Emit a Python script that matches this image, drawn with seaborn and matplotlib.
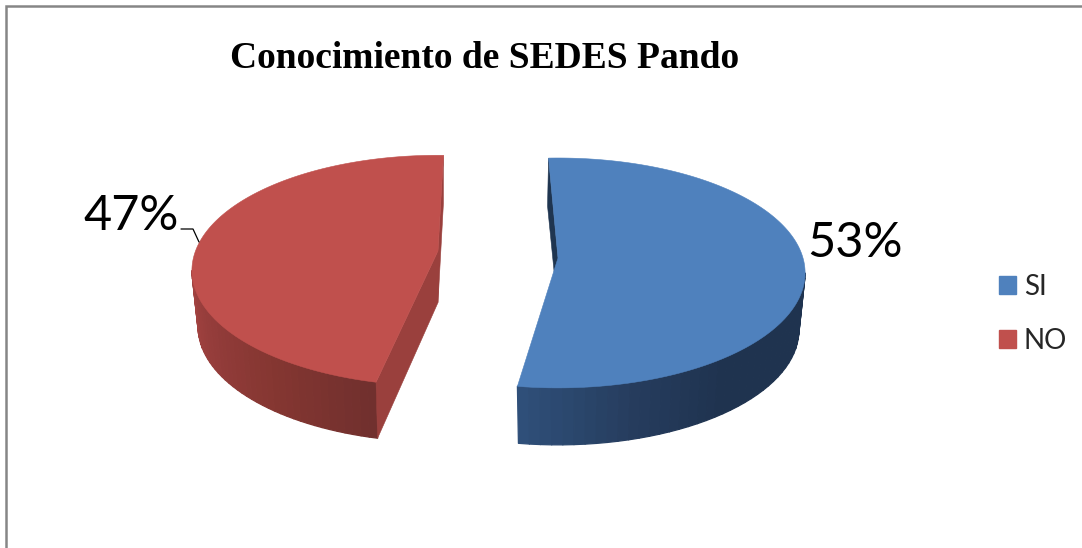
import numpy as np
import matplotlib
matplotlib.use("Agg")
import matplotlib.pyplot as plt
from matplotlib.collections import PolyCollection
from matplotlib.patches import Patch, Polygon
import seaborn as sns

TITLE = "Conocimiento de SEDES Pando"
CATEGORIES = ["SI", "NO"]
SHARES = [53, 47]
BASE_COLORS = ["#4F81BD", "#C0504D"]

sns.set_theme(style="white")
plt.rcParams["font.family"] = ["Lato", "DejaVu Sans"]
palette = sns.color_palette(BASE_COLORS)

fig = plt.figure(figsize=(10.82, 5.48), dpi=100)
ax = fig.add_axes([0, 0, 1, 1])
ax.set_xlim(0, 1082)
ax.set_ylim(548, 0)
ax.axis("off")

# Open chart frame: only the left and top edges fall inside the canvas.
ax.plot([6, 6, 1082], [548, 6, 6], color="#868686", lw=1.8, solid_joinstyle="miter")


def project(t_deg, cx, cy, radius, squash, tilt, depth=0.0, taper=1.0):
    """Perspective projection of a point on the rim of a tilted disc."""
    t = np.radians(t_deg)
    w = 1 + tilt * np.sin(t)
    x = cx + taper * radius * np.cos(t) / w
    y = cy - squash * np.sin(t) / w + depth
    return np.column_stack([np.atleast_1d(x), np.atleast_1d(y)])


def draw_slice(share, start, direction, cx, cy, radius, squash, tilt, depth, taper,
               color, face_color, side_stops, side_end, back_face, front_face):
    end = start + direction * 360 * share / sum(SHARES)
    apex = np.array([[cx, cy]])
    apex_low = apex + [0, depth * 0.92]

    # outer wall, shaded with a horizontal ramp in broad steps
    ts = np.linspace(end, side_end, 40)
    upper = project(ts, cx, cy, radius, squash, tilt)
    lower = project(ts, cx, cy, radius, squash, tilt, depth, taper)
    ramp = sns.blend_palette(side_stops, len(ts) - 1)
    quads = [[upper[i], upper[i + 1], lower[i + 1], lower[i]] for i in range(len(ts) - 1)]
    ax.add_collection(PolyCollection(quads, facecolors=ramp, edgecolors=ramp, linewidths=0.9, zorder=2))

    # flat cut faces; the front one only shows when it turns towards the viewer
    front_top = project(end, cx, cy, radius, squash, tilt)
    front_low = project(end, cx, cy, radius, squash, tilt, depth, taper)
    back_top = project(start, cx, cy, radius, squash, tilt)
    if front_face:
        ax.add_patch(Polygon(np.vstack([apex, front_top, front_low, apex_low]),
                             fc=face_color, ec=face_color, lw=0.4, zorder=2.5))
    ax.add_patch(Polygon(np.vstack([back_top, back_top + back_face, apex_low, apex]),
                         fc=face_color, ec=face_color, lw=0.4, zorder=2.5))

    # top face
    rim = project(np.linspace(start, end, 240), cx, cy, radius, squash, tilt)
    ax.add_patch(Polygon(np.vstack([apex, rim]), fc=color, ec=color, lw=0.4, zorder=3))


draw_slice(SHARES[0], 92.5, -1, 558, 258, 245, 113, 0.13, 57, 0.975,
           palette[0], "#1F3550", ["#2F4F79", "#263D5E", "#1F334F", "#1F334F", "#1F334F"],
           -7.5, [-1, 48], False)
draw_slice(SHARES[1], 88.5, 1, 438, 251, 242.5, 112, 0.17, 56, 0.975,
           palette[1], "#9A403D", ["#71302E", "#843631", "#933C3A", "#A24240"],
           189.8, [0, 48], True)

# Data labels and the leader line of the left slice
ax.text(131, 216, f"{SHARES[1]}%", fontsize=35, ha="center", va="center", color="black", zorder=5)
ax.text(855, 243, f"{SHARES[0]}%", fontsize=35, ha="center", va="center", color="black", zorder=5)
ax.plot([181, 193, 199], [229, 229, 242], color="black", lw=0.9, zorder=5)

ax.text(484.5, 58, TITLE, fontsize=27, fontweight="bold", family="Liberation Serif",
        ha="center", va="center", color="black")

handles = [Patch(fc=c, ec=c, label=n) for c, n in zip(palette, CATEGORIES)]
ax.legend(handles=handles, loc="upper left", bbox_to_anchor=(999, 274), bbox_transform=ax.transData,
          frameon=False, fontsize=20, handlelength=0.6, handleheight=0.6, handletextpad=0.3,
          labelspacing=1.0, borderpad=0, borderaxespad=0)

fig.savefig("out.png", dpi=100, facecolor="white")
